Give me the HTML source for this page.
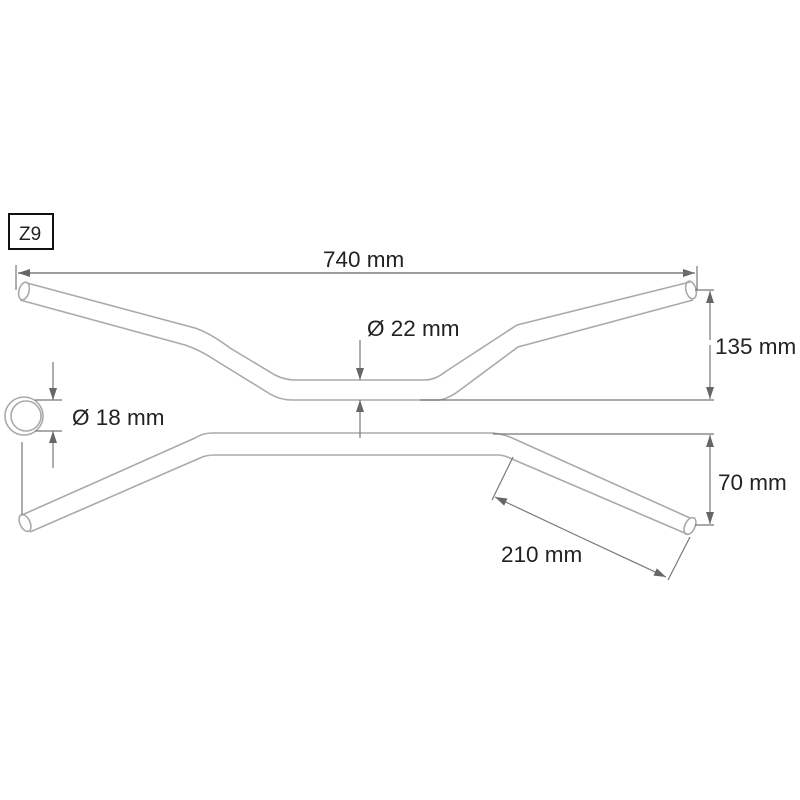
<!DOCTYPE html><html><head><style>body{margin:0;background:#fff}svg{display:block}text{font-family:"Liberation Sans",sans-serif;font-size:22.5px;fill:#222}</style></head><body>
<svg width="800" height="800" viewBox="0 0 800 800">
<defs><marker id="a" markerWidth="12" markerHeight="8" refX="12" refY="4" orient="auto" markerUnits="userSpaceOnUse"><path d="M0,0L12,4L0,8z" fill="#666"/></marker></defs>
<rect x="9" y="214" width="44" height="35" fill="none" stroke="#111" stroke-width="2"/>
<text x="19" y="240" style="font-size:19px">Z9</text>
<g fill="none" stroke="#aaa" stroke-width="1.6">
<path d="M27,283 L195,328 Q210,333 230,348 L275,375 Q285,380 295,380 L425,380 Q435,380 445,372 L517,325 L690,282"/>
<path d="M20,300 L185,345 Q200,350 215,360 L270,394 Q280,400 292,400 L440,400 Q450,398 460,390 L518,347 L693,300"/>
<ellipse cx="24" cy="291" rx="5" ry="9" transform="rotate(15 24 291)"/>
<ellipse cx="691" cy="290" rx="5" ry="9" transform="rotate(-15 691 290)"/>
<path d="M22,515 L195,438 Q203,433 212,433 L493,433 Q502,434 510,437 L690,518"/>
<path d="M30,532 L200,458 Q206,455 215,455 L500,455 Q506,456 512,459 L687,534"/>
<ellipse cx="25" cy="523" rx="5" ry="9" transform="rotate(-25 25 523)"/>
<ellipse cx="690" cy="526" rx="5" ry="9" transform="rotate(25 690 526)"/>
<circle cx="24" cy="416" r="19"/><circle cx="26" cy="416" r="15"/>
</g>
<g stroke="#777" stroke-width="1.2" fill="none">
<line x1="16" y1="265" x2="16" y2="290"/><line x1="697" y1="266" x2="697" y2="290"/>
<line x1="18" y1="273" x2="695" y2="273" marker-end="url(#a)"/>
<line x1="695" y1="273" x2="18" y2="273" marker-end="url(#a)"/>
<line x1="695" y1="290" x2="714" y2="290"/><line x1="420" y1="400" x2="714" y2="400"/>
<line x1="710" y1="340" x2="710" y2="291" marker-end="url(#a)"/><line x1="710" y1="345" x2="710" y2="399" marker-end="url(#a)"/>
<line x1="493" y1="434" x2="714" y2="434"/><line x1="695" y1="525" x2="714" y2="525"/>
<line x1="710" y1="480" x2="710" y2="435" marker-end="url(#a)"/><line x1="710" y1="480" x2="710" y2="524" marker-end="url(#a)"/>
<line x1="360" y1="340" x2="360" y2="380" marker-end="url(#a)"/><line x1="360" y1="438" x2="360" y2="400" marker-end="url(#a)"/>
<line x1="53" y1="362" x2="53" y2="400" marker-end="url(#a)"/><line x1="53" y1="468" x2="53" y2="431" marker-end="url(#a)"/>
<line x1="35" y1="400" x2="62" y2="400"/><line x1="35" y1="431" x2="62" y2="431"/>
<line x1="22" y1="442" x2="22" y2="515"/>
<line x1="513" y1="457" x2="492" y2="500"/><line x1="690" y1="537" x2="668" y2="580"/>
<line x1="580" y1="537" x2="495" y2="497" marker-end="url(#a)"/><line x1="580" y1="537" x2="666" y2="577" marker-end="url(#a)"/>
</g>
<text x="323" y="267">740 mm</text>
<text x="367" y="336">Ø 22 mm</text>
<text x="715" y="354">135 mm</text>
<text x="718" y="490">70 mm</text>
<text x="72" y="425">Ø 18 mm</text>
<text x="501" y="562">210 mm</text>
</svg></body></html>
